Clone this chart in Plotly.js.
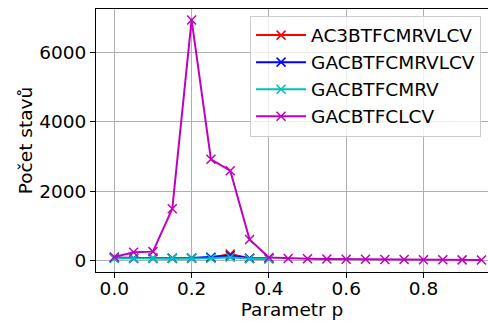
<!DOCTYPE html>
<html>
<head>
<meta charset="utf-8">
<script src="https://cdn.plot.ly/plotly-3.0.1.min.js"></script>
<style>html,body{margin:0;padding:0;background:#fff;}#chart{width:488px;height:322px;}</style>
</head>
<body>
<div id="chart"></div>
<script>
const xFull = [0.0,0.05,0.1,0.15,0.2,0.25,0.3,0.35,0.4,0.45,0.5,0.55,0.6,0.65,0.7,0.75,0.8,0.85,0.9,0.95];
const xShort = [0.0,0.05,0.1,0.15,0.2,0.25,0.3,0.35,0.4];
const names = ["AC3BTFCMRVLCV","GACBTFCMRVLCV","GACBTFCMRV","GACBTFCLCV"];
const colors = ["#ff0000","#0000ff","#00bfbf","#bf00bf"];
const redVals = [70,60,60,60,60,75,180,60,50];
const blueVals = [70,60,60,60,65,90,130,60,50];
const cyanVals = [60,55,55,55,55,60,90,45,40];
const magentaVals = [96,232,250,1490,6950,2920,2590,600,78,50,42,36,32,28,24,20,17,14,12,10];
const xTicks = [0.0,0.2,0.4,0.6,0.8];
const yTicks = [0,2000,4000,6000];

const font = "DejaVu Sans, sans-serif";
const series = [[xShort,redVals],[xShort,blueVals],[xShort,cyanVals],[xFull,magentaVals]];
const traces = series.map((s,i)=>({
  x: s[0], y: s[1], name: names[i], type: "scatter", mode: "lines+markers",
  line: {color: colors[i], width: 2},
  marker: {symbol: "x-thin", size: 9, color: colors[i], line: {color: colors[i], width: 1.5}}
}));

const layout = {
  width: 488, height: 322,
  margin: {l: 96, r: 0, t: 9, b: 50, pad: 0},
  paper_bgcolor: "#fff", plot_bgcolor: "#fff",
  font: {family: font, size: 18.5, color: "#000"},
  showlegend: true,
  legend: {x: 0.393, y: 0.975, xanchor: "left", yanchor: "top",
    itemwidth: 50, entrywidth: 250, tracegroupgap: 0,
    bgcolor: "rgba(255,255,255,0.8)", bordercolor: "#cccccc", borderwidth: 1,
    font: {family: font, size: 18.5, color: "#000"}},
  xaxis: {
    range: [-0.0474, 0.967], tickvals: xTicks, ticktext: xTicks.map(v=>v.toFixed(1)),
    showgrid: true, gridcolor: "#b0b0b0", gridwidth: 1, zeroline: false,
    showline: true, linecolor: "#000", linewidth: 1, mirror: true,
    ticks: "outside", ticklen: 5, tickcolor: "#000", ticklabelstandoff: -5,
    title: {text: "Parametr p", font: {family: font, size: 18.5}, standoff: 4}
  },
  yaxis: {
    range: [-339, 7267], tickvals: yTicks, ticktext: yTicks.map(String),
    showgrid: true, gridcolor: "#b0b0b0", gridwidth: 1, zeroline: false,
    showline: true, linecolor: "#000", linewidth: 1, mirror: false,
    ticks: "outside", ticklen: 5, tickcolor: "#000",
    title: {text: "Počet stavů", font: {family: font, size: 18.5}, standoff: 1}
  }
};
Plotly.newPlot("chart", traces, layout, {displayModeBar: false, staticPlot: true});
</script>
</body>
</html>
